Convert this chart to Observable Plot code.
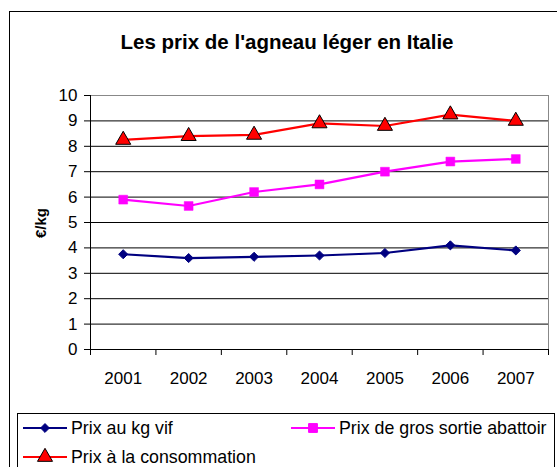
<!DOCTYPE html>
<html>
<head>
<meta charset="utf-8">
<script src="https://cdn.jsdelivr.net/npm/d3@7"></script>
<script src="https://cdn.jsdelivr.net/npm/@observablehq/plot@0.6"></script>
<style>
  html, body { margin: 0; padding: 0; background: #fff; }
  #chart { width: 557px; height: 467px; }
  svg { display: block; }
</style>
</head>
<body>
<div id="chart"></div>
<script>
const years = [2001, 2002, 2003, 2004, 2005, 2006, 2007];
const prixVif = [3.75, 3.6, 3.65, 3.7, 3.8, 4.1, 3.9];
const prixGros = [5.9, 5.65, 6.2, 6.5, 7.0, 7.4, 7.5];
const prixConso = [8.25, 8.4, 8.45, 8.9, 8.8, 9.25, 9.0];
const yTicks = [0, 1, 2, 3, 4, 5, 6, 7, 8, 9, 10];
const seriesNames = ["Prix au kg vif", "Prix de gros sortie abattoir", "Prix à la consommation"];
const titleText = "Les prix de l'agneau léger en Italie";
const yLabel = "€/kg";

const font = "'Liberation Sans', Arial, sans-serif";
const toRows = (vals) => years.map((y, i) => ({year: y, value: vals[i]}));
const vif = toRows(prixVif), gros = toRows(prixGros), conso = toRows(prixConso);
const bounds = years.map(y => y - 0.5).concat([years[years.length - 1] + 0.5]);

const W = 557, H = 467;
const mL = 90, mT = 95, mR = 9, mB = 118;

const plot = Plot.plot({
  width: W,
  height: H,
  marginLeft: mL,
  marginTop: mT,
  marginRight: mR,
  marginBottom: mB,
  style: {fontFamily: font, background: "white", overflow: "visible"},
  x: {type: "linear", domain: [years[0] - 0.5, years[years.length - 1] + 0.5]},
  y: {domain: [0, 10]},
  marks: [
    Plot.ruleY(yTicks.filter(d => d > 0 && d < 10), {stroke: "#000", strokeWidth: 1}),
    Plot.ruleY([10], {stroke: "#888", strokeWidth: 1}),
    Plot.ruleX([bounds[bounds.length - 1]], {stroke: "#888", strokeWidth: 1}),
    Plot.axisY({ticks: yTicks, tickSize: 6, tickPadding: 7, stroke: "#000", fontSize: 17, fill: "#000", label: null, tickFormat: d => String(d)}),
    Plot.axisX({ticks: bounds, tickSize: 6, tickFormat: () => "", stroke: "#000", label: null}),
    Plot.axisX({ticks: years, tickSize: 0, tickPadding: 22, fontSize: 17, fill: "#000", label: null, tickFormat: d => String(d)}),
    Plot.ruleX([bounds[0]], {stroke: "#000", strokeWidth: 1}),
    Plot.ruleY([0], {stroke: "#000", strokeWidth: 1}),
    Plot.line(vif, {x: "year", y: "value", stroke: "#000080", strokeWidth: 2.2}),
    Plot.line(gros, {x: "year", y: "value", stroke: "#FF00FF", strokeWidth: 2.2}),
    Plot.line(conso, {x: "year", y: "value", stroke: "#FF0000", strokeWidth: 2.2}),
    Plot.dot(vif, {x: "year", y: "value", symbol: "diamond2", r: 4.1, fill: "#000080", stroke: "#000080", strokeWidth: 1}),
    Plot.dot(gros, {x: "year", y: "value", symbol: "square", r: 5.0, fill: "#FF00FF", stroke: "#FF00FF", strokeWidth: 0.5}),
    Plot.dot(conso, {x: "year", y: "value", symbol: "triangle", r: 5.6, fill: "#FF0000", stroke: "#000", strokeWidth: 1})
  ]
});

const svg = d3.select(plot);
// outer chart border
svg.insert("rect", ":first-child")
  .attr("x", 9.5).attr("y", 11.5).attr("width", W + 10).attr("height", H + 10)
  .attr("fill", "none").attr("stroke", "#000").attr("stroke-width", 1);

// title
svg.append("text")
  .attr("x", 287).attr("y", 49)
  .attr("text-anchor", "middle")
  .attr("font-family", font).attr("font-weight", "bold").attr("font-size", 20.5)
  .attr("fill", "#000")
  .text(titleText);

// y label
svg.append("text")
  .attr("transform", "translate(46,223) rotate(-90)")
  .attr("text-anchor", "middle")
  .attr("font-family", font).attr("font-weight", "bold").attr("font-size", 15)
  .attr("fill", "#000")
  .text(yLabel);

// legend box
svg.append("rect")
  .attr("x", 17.5).attr("y", 413.5).attr("width", 537).attr("height", 80)
  .attr("fill", "white").attr("stroke", "#000").attr("stroke-width", 1);

const legendItems = [
  {name: seriesNames[0], color: "#000080", symbol: d3.symbolDiamond2, size: 50, stroke: "#000080", x: 23, y: 428},
  {name: seriesNames[1], color: "#FF00FF", symbol: d3.symbolSquare, size: 78, stroke: "#FF00FF", x: 291, y: 428},
  {name: seriesNames[2], color: "#FF0000", symbol: d3.symbolTriangle, size: 98, stroke: "#000", x: 23, y: 457}
];
legendItems.forEach(it => {
  const g = svg.append("g");
  g.append("line").attr("x1", it.x).attr("x2", it.x + 44).attr("y1", it.y).attr("y2", it.y)
    .attr("stroke", it.color).attr("stroke-width", 2.2);
  g.append("path").attr("d", d3.symbol(it.symbol, it.size)())
    .attr("transform", `translate(${it.x + 22},${it.y})`)
    .attr("fill", it.color).attr("stroke", it.stroke).attr("stroke-width", 1);
  g.append("text").attr("x", it.x + 48).attr("y", it.y).attr("dy", "0.36em")
    .attr("text-anchor", "start")
    .attr("font-family", font).attr("font-size", 17.8).attr("fill", "#000")
    .text(it.name);
});

document.getElementById("chart").appendChild(plot);
</script>
</body>
</html>
